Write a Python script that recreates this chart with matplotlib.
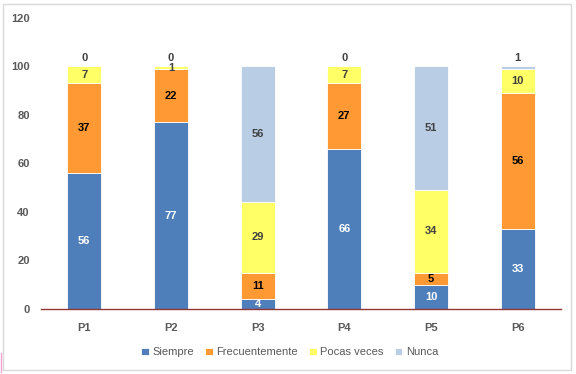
import numpy as np
import matplotlib
matplotlib.use("Agg")
import matplotlib.pyplot as plt
from matplotlib.patches import Rectangle
from matplotlib.lines import Line2D


# =========================
# DATA
# =========================
categories = ["P1", "P2", "P3", "P4", "P5", "P6"]

siempre = [56, 77, 4, 66, 10, 33]
frecuentemente = [37, 22, 11, 27, 5, 56]
pocas_veces = [7, 1, 29, 7, 34, 10]
nunca = [0, 0, 56, 0, 51, 1]

series_names = ["Siempre", "Frecuentemente", "Pocas veces", "Nunca"]
series_values = [siempre, frecuentemente, pocas_veces, nunca]
colors = ["#4F7FBB", "#FF9933", "#FFFF66", "#B9CDE5"]
label_colors = ["white", "black", "#404040", "#404040"]


# =========================
# FIGURE SETUP
# =========================
plt.rcParams["font.family"] = ["Liberation Sans", "DejaVu Sans"]

fig = plt.figure(figsize=(5.76, 3.74), dpi=100)
ax = fig.add_axes([0.071, 0.174, 0.903, 0.778])

x = np.arange(len(categories))
bottom = np.zeros(len(categories))

for name, vals, col, lcol in zip(series_names, series_values, colors, label_colors):
    vals = np.array(vals, dtype=float)
    ax.bar(x, vals, 0.39, bottom=bottom, color=col, label=name,
           edgecolor="white", linewidth=0.6)
    for i, v in enumerate(vals):
        yc = bottom[i] + v / 2
        # small values on top of the stack sit just above it
        if name == "Nunca" and v <= 1:
            yc = 103.4
        ax.text(x[i], yc, f"{int(v)}", ha="center", va="center",
                fontsize=8, fontweight="bold", color=lcol)
    bottom += vals


# =========================
# AXES STYLE
# =========================
ax.set_xlim(-0.5, len(categories) - 0.5)
ax.set_ylim(0, 120)
ax.set_yticks(range(0, 121, 20))
ax.set_xticks(x)
ax.set_xticklabels(categories)

for s in ["top", "right", "left"]:
    ax.spines[s].set_visible(False)
ax.spines["bottom"].set_color("#943634")
ax.spines["bottom"].set_linewidth(1.0)

ax.tick_params(axis="both", length=0, labelsize=8, labelcolor="#595959")
ax.tick_params(axis="x", pad=10)
ax.tick_params(axis="y", pad=8)
for lab in ax.get_xticklabels() + ax.get_yticklabels():
    lab.set_fontweight("bold")

leg = fig.legend(loc="center", bbox_to_anchor=(0.503, 0.058), ncol=4,
                 frameon=False, fontsize=8, handlelength=0.7, handleheight=0.7,
                 handletextpad=0.3, columnspacing=1.0)
for t in leg.get_texts():
    t.set_color("#595959")


# =========================
# FRAME
# =========================
fig.add_artist(Rectangle((0.006, 0.01), 0.986, 0.98, transform=fig.transFigure,
                         fill=False, edgecolor="#D9D9D9", linewidth=1.0))
fig.add_artist(Line2D([0.002, 0.002], [0.005, 0.055], transform=fig.transFigure,
                      color="#F2A2CF", linewidth=1.0))

fig.savefig("out.png", dpi=100)
